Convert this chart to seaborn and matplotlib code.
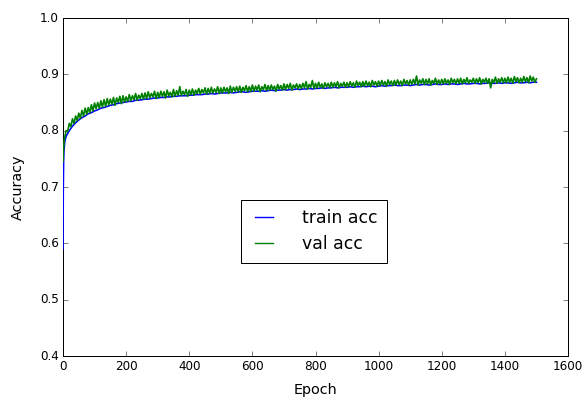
import numpy as np
import pandas as pd
import matplotlib
matplotlib.use("Agg")
import matplotlib.pyplot as plt
from matplotlib.lines import Line2D
import seaborn as sns

# ---- data ----
train_epochs = [0, 1, 2, 3, 4, 5, 6, 8] + list(range(10, 1501, 10))
train_acc = [
    0.590, 0.700, 0.745, 0.763, 0.771, 0.777, 0.781, 0.786,
    0.790, 0.800, 0.808, 0.814, 0.819, 0.823, 0.826, 0.830, 0.832, 0.835,
    0.837, 0.840, 0.841, 0.843, 0.845, 0.846, 0.848, 0.849, 0.850, 0.851,
    0.852, 0.852, 0.854, 0.854, 0.855, 0.856, 0.856, 0.857, 0.858, 0.858,
    0.859, 0.859, 0.860, 0.860, 0.861, 0.861, 0.862, 0.862, 0.862, 0.863,
    0.863, 0.864, 0.864, 0.864, 0.865, 0.865, 0.866, 0.865, 0.866, 0.867,
    0.867, 0.867, 0.868, 0.867, 0.868, 0.869, 0.869, 0.868, 0.869, 0.870,
    0.870, 0.870, 0.871, 0.870, 0.871, 0.872, 0.871, 0.872, 0.872, 0.873,
    0.872, 0.873, 0.873, 0.874, 0.873, 0.874, 0.874, 0.875, 0.874, 0.875,
    0.875, 0.876, 0.875, 0.876, 0.876, 0.877, 0.876, 0.877, 0.877, 0.877,
    0.878, 0.877, 0.878, 0.878, 0.879, 0.878, 0.879, 0.879, 0.878, 0.879,
    0.880, 0.879, 0.880, 0.880, 0.881, 0.880, 0.880, 0.881, 0.881, 0.880,
    0.881, 0.882, 0.881, 0.882, 0.882, 0.881, 0.882, 0.883, 0.882, 0.882,
    0.883, 0.882, 0.883, 0.883, 0.882, 0.883, 0.884, 0.883, 0.883, 0.884,
    0.884, 0.883, 0.884, 0.884, 0.885, 0.884, 0.884, 0.885, 0.884, 0.885,
    0.885, 0.884, 0.885, 0.886, 0.885, 0.885, 0.886, 0.885, 0.886, 0.886,
]

val_epochs = [0, 1, 2, 3, 4] + list(range(5, 1501, 5))
val_acc = [
    0.745, 0.762, 0.772, 0.778, 0.783,
    0.787, 0.800, 0.799, 0.813, 0.807, 0.821, 0.813, 0.826, 0.818, 0.831,
    0.822, 0.836, 0.826, 0.840, 0.829, 0.841, 0.832, 0.846, 0.835, 0.849,
    0.839, 0.850, 0.840, 0.853, 0.842, 0.855, 0.843, 0.857, 0.846, 0.856,
    0.847, 0.859, 0.845, 0.858, 0.850, 0.861, 0.848, 0.862, 0.851, 0.860,
    0.852, 0.864, 0.853, 0.862, 0.855, 0.866, 0.854, 0.863, 0.857, 0.866,
    0.856, 0.867, 0.857, 0.869, 0.858, 0.866, 0.860, 0.870, 0.857, 0.868,
    0.859, 0.870, 0.861, 0.869, 0.858, 0.872, 0.862, 0.868, 0.860, 0.873,
    0.861, 0.871, 0.863, 0.878, 0.862, 0.870, 0.864, 0.873, 0.861, 0.872,
    0.864, 0.874, 0.863, 0.872, 0.866, 0.875, 0.865, 0.873, 0.867, 0.876,
    0.865, 0.875, 0.866, 0.877, 0.867, 0.874, 0.868, 0.878, 0.866, 0.876,
    0.867, 0.877, 0.869, 0.876, 0.866, 0.879, 0.868, 0.877, 0.870, 0.878,
    0.869, 0.879, 0.868, 0.877, 0.871, 0.880, 0.869, 0.878, 0.870, 0.881,
    0.870, 0.879, 0.872, 0.881, 0.869, 0.878, 0.873, 0.882, 0.871, 0.880,
    0.872, 0.881, 0.873, 0.879, 0.870, 0.882, 0.874, 0.880, 0.872, 0.883,
    0.873, 0.882, 0.875, 0.884, 0.872, 0.881, 0.876, 0.883, 0.874, 0.882,
    0.875, 0.884, 0.876, 0.887, 0.874, 0.882, 0.877, 0.889, 0.875, 0.884,
    0.876, 0.886, 0.877, 0.883, 0.875, 0.885, 0.878, 0.884, 0.876, 0.886,
    0.877, 0.885, 0.878, 0.887, 0.876, 0.884, 0.879, 0.886, 0.877, 0.885,
    0.878, 0.887, 0.879, 0.885, 0.877, 0.888, 0.880, 0.886, 0.878, 0.887,
    0.879, 0.888, 0.880, 0.886, 0.878, 0.889, 0.881, 0.887, 0.879, 0.888,
    0.880, 0.889, 0.881, 0.887, 0.879, 0.890, 0.882, 0.888, 0.880, 0.889,
    0.881, 0.890, 0.882, 0.888, 0.880, 0.891, 0.883, 0.889, 0.881, 0.890,
    0.882, 0.891, 0.883, 0.897, 0.881, 0.890, 0.884, 0.892, 0.882, 0.891,
    0.883, 0.892, 0.881, 0.889, 0.884, 0.893, 0.882, 0.890, 0.883, 0.891,
    0.883, 0.892, 0.884, 0.890, 0.882, 0.893, 0.885, 0.891, 0.883, 0.892,
    0.884, 0.893, 0.883, 0.891, 0.885, 0.894, 0.884, 0.890, 0.886, 0.893,
    0.884, 0.892, 0.885, 0.894, 0.883, 0.891, 0.886, 0.893, 0.884, 0.892,
    0.876, 0.891, 0.885, 0.895, 0.884, 0.892, 0.886, 0.894, 0.885, 0.893,
    0.885, 0.895, 0.886, 0.893, 0.884, 0.896, 0.887, 0.894, 0.885, 0.893,
    0.886, 0.896, 0.887, 0.894, 0.885, 0.897, 0.888, 0.895, 0.886, 0.892,
]

x_ticks = [0, 200, 400, 600, 800, 1000, 1200, 1400, 1600]
y_ticks = [0.4, 0.5, 0.6, 0.7, 0.8, 0.9, 1.0]
series_names = ["train acc", "val acc"]
series_colors = ["#0000ff", "#008000"]

train_df = pd.DataFrame({"Epoch": train_epochs, "Accuracy": train_acc})
val_df = pd.DataFrame({"Epoch": val_epochs, "Accuracy": val_acc})

# ---- style ----
plt.style.use("classic")
plt.rcParams["font.family"] = ["DejaVu Sans"]

DPI = 72
fig = plt.figure(figsize=(587 / DPI, 401 / DPI), dpi=DPI, facecolor="white")
ax = fig.add_axes([63 / 587, 1 - 356 / 401, (568 - 63) / 587, (356 - 18) / 401])
ax.set_facecolor("white")

sns.lineplot(data=train_df, x="Epoch", y="Accuracy", ax=ax, color=series_colors[0],
             lw=1.6, estimator=None, zorder=3, legend=False)
sns.lineplot(data=val_df, x="Epoch", y="Accuracy", ax=ax, color=series_colors[1],
             lw=1.7, estimator=None, zorder=3.1, legend=False)

ax.set_xlim(0, 1600)
ax.set_ylim(0.4, 1.0)
ax.set_xticks(x_ticks)
ax.set_yticks(y_ticks)
ax.set_xticklabels([str(t) for t in x_ticks])
ax.set_yticklabels([f"{t:.1f}" for t in y_ticks])
ax.tick_params(direction="in", length=5, labelsize=12, top=True, right=True)
ax.set_xlabel("Epoch", fontsize=14.4, labelpad=10)
ax.set_ylabel("Accuracy", fontsize=14.4, labelpad=15)

handles = [Line2D([0], [0], color=c, lw=1.4) for c in series_colors]
leg = ax.legend(handles, series_names, loc="center", bbox_to_anchor=(0.497, 0.369),
                fontsize=17.28, handlelength=1.6, handletextpad=1.4, frameon=True,
                fancybox=False, borderpad=0.55, labelspacing=0.45)
leg.get_frame().set_edgecolor("black")
leg.set_zorder(5)

fig.savefig("out.png", dpi=DPI, facecolor="white")
